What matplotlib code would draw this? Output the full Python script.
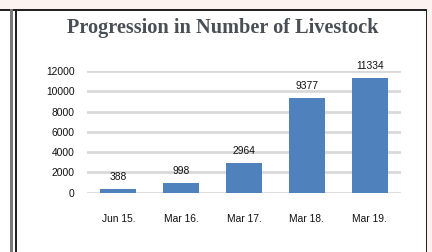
import matplotlib
matplotlib.use("Agg")
import matplotlib.pyplot as plt
from matplotlib.patches import Rectangle

categories = ["Jun 15.", "Mar 16.", "Mar 17.", "Mar 18.", "Mar 19."]
values = [388, 998, 2964, 9377, 11334]
yticks = [0, 2000, 4000, 6000, 8000, 10000, 12000]
title = "Progression in Number of Livestock"

W, H = 432, 252
fig = plt.figure(figsize=(W / 100, H / 100), dpi=100)
fig.patch.set_facecolor("#fcf3f1")

def px_rect(x0, y0, x1, y1, color):
    # pixel coords with origin top-left
    fig.add_artist(Rectangle((x0 / W, 1 - y1 / H), (x1 - x0) / W, (y1 - y0) / H,
                             transform=fig.transFigure, facecolor=color,
                             edgecolor="none", zorder=-10))

px_rect(0, 10, 427, 252, "white")
px_rect(0, 9, 427, 10.5, "#222222")
px_rect(10, 9, 12.5, 252, "#7a7a7a")
px_rect(15, 9, 16.5, 252, "#222222")
px_rect(425.5, 9, 427, 252, "#222222")

FONT = "Liberation Sans"
FS = 7.4
ax = fig.add_axes([87 / W, 1 - 192.7 / H, (401 - 87) / W, (192.7 - 71) / H])
ax.set_facecolor("none")
x = list(range(len(categories)))
ax.bar(x, values, width=0.575, color="#4f81bd", zorder=3)
ax.set_xlim(-0.5, len(categories) - 0.5)
ax.set_ylim(0, 12000)
ax.set_yticks(yticks)
ax.set_yticklabels([str(t) for t in yticks])
ax.set_xticks(x)
ax.set_xticklabels(categories)
for s in ax.spines.values():
    s.set_visible(False)
ax.tick_params(axis="both", length=0, labelsize=FS, colors="#111111")
ax.tick_params(axis="y", pad=9)
ax.tick_params(axis="x", pad=15)
for lab in ax.get_xticklabels() + ax.get_yticklabels():
    lab.set_fontfamily(FONT)
ax.grid(axis="y", color="#d9d9d9", linewidth=2, zorder=0)
for xi, v in zip(x, values):
    ax.annotate(str(v), (xi, v), xytext=(0, 5), textcoords="offset points",
                ha="center", va="bottom", fontsize=FS, fontfamily=FONT,
                color="#111111")

fig.text(223 / W, 1 - 28 / H, title, ha="center", va="center",
         fontsize=14.6, fontweight="bold", color="#4a4f55",
         fontfamily="Liberation Serif")

fig.savefig("out.png", dpi=100, facecolor=fig.get_facecolor())
